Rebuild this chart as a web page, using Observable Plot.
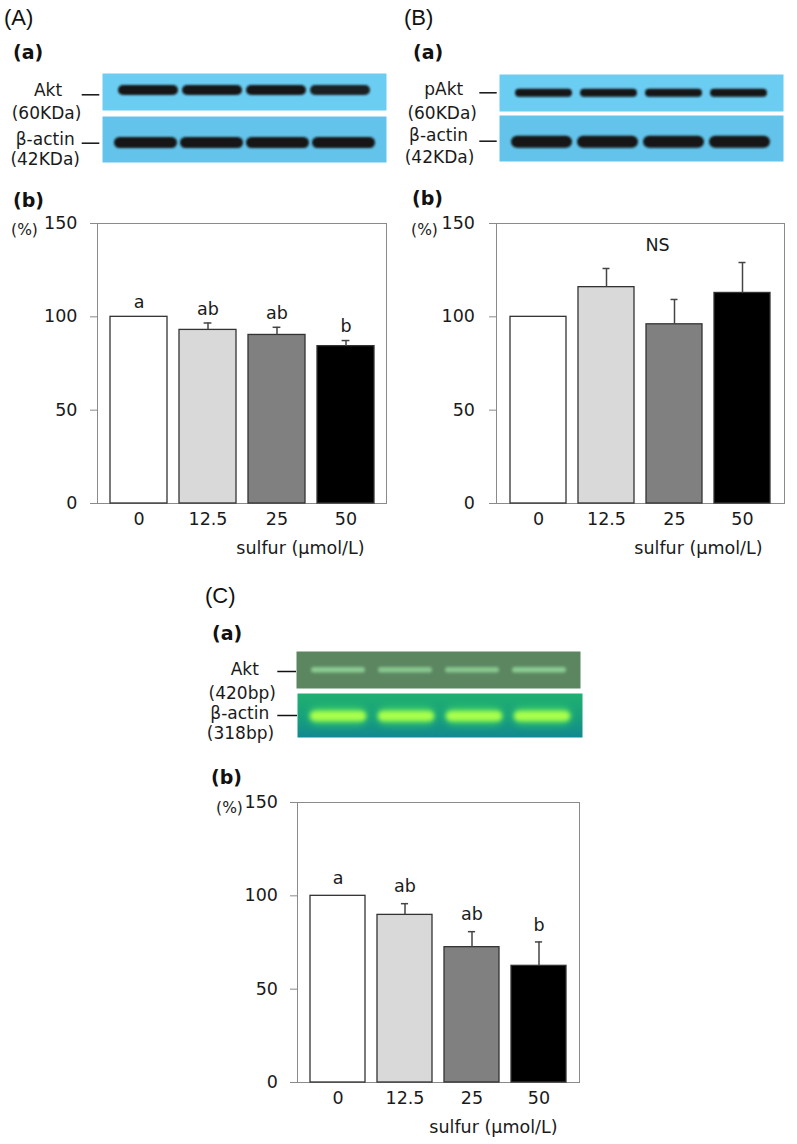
<!DOCTYPE html>
<html><head><meta charset="utf-8">
<script src="https://cdn.jsdelivr.net/npm/d3@7"></script>
<script src="https://cdn.jsdelivr.net/npm/@observablehq/plot@0.6"></script>
<style>
body{margin:0;background:#fff;}
#fig{position:relative;width:797px;height:1144px;overflow:hidden;background:#fff;}
.pos{position:absolute;}
.panel{font-family:"Liberation Sans",Arial,sans-serif;font-size:22px;color:#111;line-height:30px;height:30px;white-space:nowrap;}
.sub{font-family:"DejaVu Sans",sans-serif;font-weight:bold;font-size:19px;color:#111;line-height:30px;height:30px;white-space:nowrap;}
svg{overflow:visible;}
</style></head><body><div id="fig"></div>
<script>
// ---------- data ----------
const doses = ["0", "12.5", "25", "50"];
const yTicks = [0, 50, 100, 150];
const barFills = ["#ffffff", "#d9d9d9", "#808080", "#000000"];
const xTitle = "sulfur (μmol/L)";
const yUnit = "(%)";

// (A) Akt protein
const aktMean = [100, 93.0, 90.3, 84.3];
const aktErr = [0, 3.7, 4.1, 3.0];
const aktLetters = ["a", "ab", "ab", "b"];
// (B) pAkt protein
const pAktMean = [100, 115.9, 96.0, 112.8];
const pAktErr = [0, 10.0, 13.3, 16.3];
const pAktNote = "NS";
// (C) Akt mRNA
const mrnaMean = [100, 89.8, 72.5, 62.5];
const mrnaErr = [0, 6.0, 8.3, 12.8];
const mrnaLetters = ["a", "ab", "ab", "b"];

// band intensities per lane (relative)
const aktBand = [1, 1, 1, 0.95];
const actinBandA = [1, 1, 1, 1];
const pAktBand = [1, 1, 1, 1];
const actinBandB = [1, 1, 1, 1];
const aktGelBand = [0.75, 0.7, 0.7, 0.75];
const actinGelBand = [1, 1, 1, 1];

// ---------- helpers ----------
const fig = document.getElementById("fig");
const FS = 17.5;
function place(el, x, y) {
  const d = document.createElement("div");
  d.className = "pos"; d.style.left = x + "px"; d.style.top = y + "px";
  d.appendChild(el); fig.appendChild(d);
}
function heading(text, cls, x, cy) {
  const d = document.createElement("div");
  d.className = "pos " + cls; d.textContent = text;
  d.style.left = x + "px"; d.style.top = (cy - 15) + "px"; d.style.zIndex = 5;
  fig.appendChild(d);
}
const baseStyle = {fontFamily: "'DejaVu Sans', sans-serif", fontSize: FS + "px", color: "#1a1a1a", background: "transparent", overflow: "visible"};

function strip(c) {
  const ML = 110;
  const W = c.right - c.left, H = c.bottom - c.top;
  const cy = (c.top + c.bottom) / 2;
  const rows = doses.map((d, i) => ({lane: d, v: c.intensity[i]}));
  const marks = [Plot.frame({fill: c.gradient ? "url(#" + c.gradient.id + ")" : c.bg, stroke: "none"})];
  if (c.glow) {
    marks.push(Plot.cell(rows, {x: "lane", y: () => c.row, fill: c.glow, fillOpacity: d => d.v * 0.55,
      insetLeft: 0, insetRight: 0, insetTop: c.inT - 4, insetBottom: c.inB - 4,
      rx: (H - c.inT - c.inB + 8) / 2}));
  }
  marks.push(Plot.cell(rows, {x: "lane", y: () => c.row, fill: c.band, fillOpacity: d => d.v,
    insetLeft: 1, insetRight: 1, insetTop: c.inT, insetBottom: c.inB,
    rx: (H - c.inT - c.inB) / 2}));
  marks.push(Plot.ruleY([c.row], {y: d => d, insetLeft: c.dash[0] - c.left, insetRight: c.right - c.dash[1],
    dy: c.dashY - cy, stroke: "#111", strokeWidth: 1.5}));
  for (const [t, x, y] of c.labels) {
    marks.push(Plot.text([t], {text: d => d, frameAnchor: "left", lineAnchor: "middle", dx: x - c.left, dy: y - cy,
      textAnchor: "middle", fill: "#1a1a1a", fontSize: 17}));
  }
  const svg = Plot.plot({
    width: W + ML, height: H, marginLeft: ML, marginRight: 0, marginTop: 0, marginBottom: 0,
    x: {domain: doses, paddingInner: c.pi, paddingOuter: c.po, axis: null},
    y: {domain: [c.row], padding: 0, axis: null},
    style: baseStyle, marks
  });
  const defs = d3.select(svg).insert("defs", ":first-child");
  if (c.gradient) {
    const g = defs.append("linearGradient")
      .attr("id", c.gradient.id).attr("x1", 0).attr("y1", 0).attr("x2", 0).attr("y2", 1);
    c.gradient.stops.forEach(([o, col]) => g.append("stop").attr("offset", o).attr("stop-color", col));
  }
  const addBlur = (id, sd) => defs.append("filter").attr("id", id)
    .attr("x", "-30%").attr("y", "-200%").attr("width", "160%").attr("height", "500%")
    .append("feGaussianBlur").attr("stdDeviation", sd);
  addBlur(c.id + "-b", c.blur);
  addBlur(c.id + "-g", 3.5);
  const cells = svg.querySelectorAll('g[aria-label="cell"]');
  cells[cells.length - 1].setAttribute("filter", `url(#${c.id}-b)`);
  if (c.glow) cells[0].setAttribute("filter", `url(#${c.id}-g)`);
  place(svg, c.left - ML, c.top);
}

function bars(c) {
  const ML = 90, MR = 12, MT = 22, MB = 62;
  const W = c.right - c.left, H = c.bottom - c.top;
  const data = doses.map((d, i) => ({dose: d, mean: c.mean[i], err: c.err[i], fill: barFills[i],
    letter: c.letters ? c.letters[i] : null}));
  const withErr = data.filter(d => d.err > 0);
  const bw = W / (4 + 0.18) * 0.82, capW = 7.5, capIn = (bw - capW) / 2;
  const marks = [
    Plot.frame({stroke: "#8a8a8a", strokeWidth: 1}),
    Plot.axisY(yTicks, {tickSize: 7, tickPadding: c.tp, stroke: "#8a8a8a", fill: "#1a1a1a", label: null}),
    Plot.axisX({tickSize: 0, tickPadding: 9, fill: "#1a1a1a", label: null}),
    Plot.barY(data, {x: "dose", y: "mean", fill: "fill", stroke: "#333", strokeWidth: 1.3}),
    Plot.ruleX(withErr, {x: "dose", y1: "mean", y2: d => d.mean + d.err, stroke: "#444", strokeWidth: 1.5}),
    Plot.tickY(withErr, {x: "dose", y: d => d.mean + d.err, insetLeft: capIn, insetRight: capIn, stroke: "#444", strokeWidth: 1.5}),
    Plot.text([yUnit], {text: d => d, frameAnchor: "top-left", lineAnchor: "middle", dx: c.pct[0] - c.left, dy: c.pct[1] - c.top,
      textAnchor: "middle", fontSize: 15.5, fill: "#1a1a1a"}),
    Plot.text([xTitle], {text: d => d, frameAnchor: "bottom-right", lineAnchor: "middle", dx: -22, dy: 45,
      textAnchor: "end", fontSize: FS, fill: "#1a1a1a"})
  ];
  if (c.letters) {
    marks.push(Plot.text(data, {x: "dose", y: d => d.mean + d.err, text: "letter", dy: c.letterDy, fontSize: FS, fill: "#1a1a1a"}));
  }
  if (c.note) {
    marks.push(Plot.text([c.note], {text: d => d, frameAnchor: "top", lineAnchor: "middle", dx: 17, dy: 22, fontSize: FS, fill: "#1a1a1a"}));
  }
  const svg = Plot.plot({
    width: W + ML + MR, height: H + MT + MB, marginLeft: ML, marginRight: MR, marginTop: MT, marginBottom: MB,
    x: {domain: doses, padding: 0.18, axis: null},
    y: {domain: [0, 150], axis: null},
    color: {type: "identity"},
    style: baseStyle, marks
  });
  place(svg, c.left - ML, c.top - MT);
}

// ---------- headings ----------
heading("(A)", "panel", 4, 18);
heading("(B)", "panel", 404, 18);
heading("(C)", "panel", 205, 596);
heading("(a)", "sub", 13, 52);
heading("(a)", "sub", 413, 52);
heading("(a)", "sub", 212, 633);
heading("(b)", "sub", 13, 200);
heading("(b)", "sub", 412, 198);
heading("(b)", "sub", 211, 777);

// ---------- blots ----------
strip({id: "s1", left: 102, right: 386, top: 73, bottom: 110, bg: "#6ccdf2", band: "#151515", row: "Akt",
  intensity: aktBand, pi: 0.03, po: 0.21, inT: 12, inB: 15, blur: 0.9,
  dash: [81.7, 99.3], dashY: 94.3, labels: [["Akt", 47.5, 90], ["(60KDa)", 46, 113]]});
strip({id: "s2", left: 102, right: 386, top: 116, bottom: 162, bg: "#63c3ea", band: "#151515", row: "β-actin",
  intensity: actinBandA, pi: 0.02, po: 0.157, inT: 21, inB: 14, blur: 0.9,
  dash: [81.7, 99.3], dashY: 142.7, labels: [["β-actin", 44.7, 139], ["(42KDa)", 44.7, 159]]});
strip({id: "s3", left: 499, right: 783, top: 74, bottom: 111, bg: "#6ccdf2", band: "#151515", row: "pAkt",
  intensity: pAktBand, pi: 0.1, po: 0.22, inT: 14.7, inB: 14.3, blur: 0.9,
  dash: [479.3, 496.7], dashY: 92.3, labels: [["pAkt", 443.3, 89.3], ["(60KDa)", 441.7, 113.3]]});
strip({id: "s4", left: 499, right: 783, top: 115, bottom: 161, bg: "#63c3ea", band: "#151515", row: "β-actin",
  intensity: actinBandB, pi: 0.04, po: 0.166, inT: 20.7, inB: 13.3, blur: 0.9,
  dash: [479.3, 496.7], dashY: 140.7, labels: [["β-actin", 438, 135], ["(42KDa)", 439, 156.7]]});
strip({id: "s5", left: 296, right: 580, top: 651, bottom: 688, bg: "#5b8660", band: "#9be3a2", row: "Akt",
  intensity: aktGelBand, pi: 0.17, po: 0.198, inT: 16, inB: 15.5, blur: 1.4,
  dash: [277.3, 296], dashY: 671, labels: [["Akt", 244.3, 669.3], ["(420bp)", 241.7, 693.3]]});
strip({id: "s6", left: 297, right: 582, top: 693, bottom: 737, row: "β-actin",
  gradient: {id: "gelGrad", stops: [[0, "#20b070"], [0.55, "#17a07c"], [1, "#128890"]]},
  band: "#a8ff4c", glow: "#55ea55",
  intensity: actinGelBand, pi: 0.15, po: 0.157, inT: 18, inB: 16, blur: 2,
  dash: [277.3, 297], dashY: 715, labels: [["β-actin", 239.3, 713.3], ["(318bp)", 240, 733.3]]});

// ---------- bar charts ----------
bars({left: 97, right: 386, top: 223, bottom: 503, mean: aktMean, err: aktErr, letters: aktLetters,
  letterDy: -14, tp: 13, pct: [24, 230]});
bars({left: 496, right: 784, top: 223, bottom: 503, mean: pAktMean, err: pAktErr, note: pAktNote,
  tp: 14.5, pct: [424, 229.3]});
bars({left: 297, right: 579, top: 802, bottom: 1082, mean: mrnaMean, err: mrnaErr, letters: mrnaLetters,
  letterDy: -17, tp: 12.5, pct: [229, 807.3]});
</script></body></html>
